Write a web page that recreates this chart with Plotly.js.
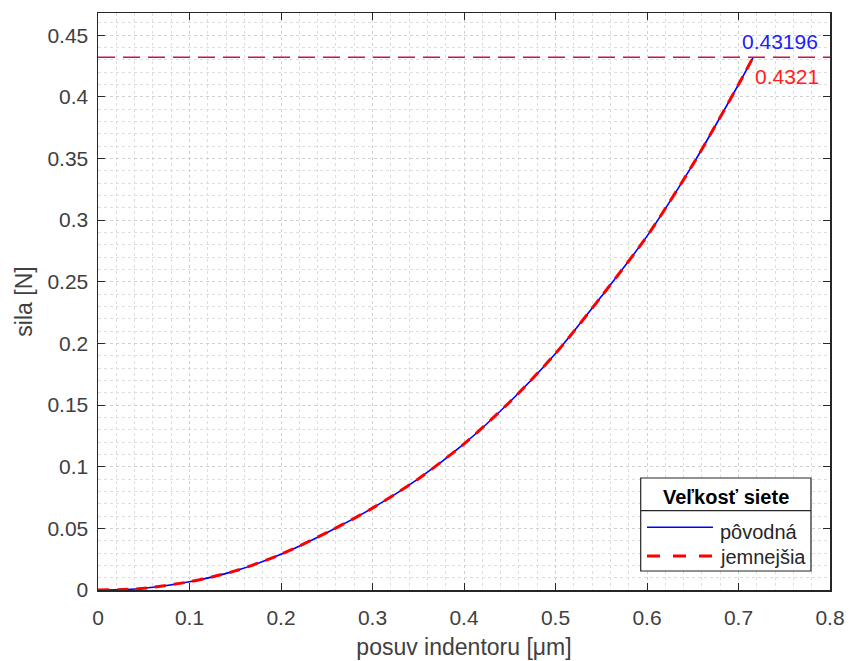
<!DOCTYPE html>
<html>
<head>
<meta charset="utf-8">
<script src="https://cdn.plot.ly/plotly-3.0.1.min.js"></script>
<style>html,body{margin:0;padding:0;background:#fff;}#chart{width:849px;height:661px;}</style>
</head>
<body>
<div id="chart"></div>
<script>
// displacement of indentor [µm]
const posuv = [0, 0.044, 0.1, 0.15, 0.2, 0.25, 0.3, 0.35, 0.4, 0.45, 0.5, 0.55, 0.6, 0.65, 0.7, 0.716];
// force [N] - original mesh
const silaPovodna = [0, 0.001, 0.0067, 0.0155, 0.029, 0.0465, 0.0664, 0.0901, 0.1185, 0.1525, 0.1918, 0.238, 0.287, 0.345, 0.410, 0.43196];
// force [N] - finer mesh
const silaJemnejsia = [0, 0.001, 0.0067, 0.0155, 0.029, 0.0465, 0.0664, 0.0901, 0.1185, 0.1525, 0.1918, 0.238, 0.287, 0.345, 0.410, 0.4321];
const seriesNames = ['pôvodná', 'jemnejšia'];
const legendTitle = 'Veľkosť siete';
const xTitle = 'posuv indentoru [μm]';
const yTitle = 'sila [N]';
const xRange = [0, 0.8];
const yRange = [0, 0.468];

const FONT = '"Liberation Sans", Arial, Helvetica, sans-serif';
const maxP = silaPovodna[silaPovodna.length - 1];
const maxJ = silaJemnejsia[silaJemnejsia.length - 1];
const xEnd = posuv[posuv.length - 1];

const colors = ['#0000ff', '#ff0000'];
const dashes = ['solid', '11px,8px'];
const widths = [1.6, 3];

const traces = [
  {x: posuv, y: silaPovodna, name: seriesNames[0], type: 'scatter', mode: 'lines',
   line: {color: colors[0], width: widths[0], shape: 'spline', smoothing: 0.8}},
  {x: posuv, y: silaJemnejsia, name: seriesNames[1], type: 'scatter', mode: 'lines',
   line: {color: colors[1], width: widths[1], dash: dashes[1], shape: 'spline', smoothing: 0.8}}
];

const gridStyle = {showgrid: true, gridcolor: '#d0d0d0', gridwidth: 1, griddash: '3px,3px'};

// custom legend (paper coordinates)
const lg = {x0: 0.7414, x1: 0.974, y0: 0.0329, y1: 0.1941, sep: 0.1374,
            sx0: 0.750, sx1: 0.8402, tx: 0.847, rows: [0.1087, 0.0589], trow: [0.1005, 0.0572], ty: 0.162};

const shapes = [
  {type: 'line', xref: 'x domain', yref: 'y', x0: 0, x1: 1, y0: maxJ, y1: maxJ,
   line: {color: '#c8144c', width: 1.6, dash: '17px,8px'}, layer: 'above'},
  {type: 'rect', xref: 'paper', yref: 'paper', x0: lg.x0, x1: lg.x1, y0: lg.y0, y1: lg.y1,
   fillcolor: '#ffffff', line: {color: '#262626', width: 1.2}, layer: 'above'},
  {type: 'line', xref: 'paper', yref: 'paper', x0: lg.x0, x1: lg.x1, y0: lg.sep, y1: lg.sep,
   line: {color: '#262626', width: 1.2}, layer: 'above'}
];
const annotations = [
  {x: xEnd, y: maxP, xref: 'x', yref: 'y', text: String(maxP), showarrow: false,
   xanchor: 'center', yanchor: 'bottom', xshift: 27, yshift: 2,
   font: {size: 21, color: '#2020ff', family: FONT}},
  {x: xEnd, y: maxJ, xref: 'x', yref: 'y', text: String(maxJ), showarrow: false,
   xanchor: 'left', yanchor: 'top', xshift: 0, yshift: -6,
   font: {size: 21, color: '#ff2020', family: FONT}},
  {x: (lg.x0 + lg.x1) / 2, y: lg.ty, xref: 'paper', yref: 'paper', text: '<b>' + legendTitle + '</b>',
   showarrow: false, xanchor: 'center', yanchor: 'middle', font: {size: 20, color: '#000', family: FONT}}
];
seriesNames.forEach((n, i) => {
  shapes.push({type: 'line', xref: 'paper', yref: 'paper', x0: lg.sx0, x1: lg.sx1, y0: lg.rows[i], y1: lg.rows[i],
    line: {color: colors[i], width: i === 0 ? 1.6 : 3.2, dash: i === 0 ? 'solid' : '13px,13px'}, layer: 'above'});
  annotations.push({x: lg.tx, y: lg.trow[i], xref: 'paper', yref: 'paper', text: n, showarrow: false,
    xanchor: 'left', yanchor: 'middle', font: {size: 20, color: '#262626', family: FONT}});
});

const layout = {
  width: 849, height: 661,
  margin: {l: 98, r: 19, t: 13, b: 71},
  paper_bgcolor: '#fff', plot_bgcolor: '#fff',
  font: {family: FONT, size: 21, color: '#404040'},
  showlegend: false,
  xaxis: Object.assign({
    range: xRange, dtick: 0.1, tick0: 0,
    ticks: 'inside', ticklen: 7, tickcolor: '#262626', tickwidth: 1,
    showline: true, linecolor: '#262626', linewidth: 1.5, mirror: 'ticks',
    zeroline: false, ticklabelstandoff: 8,
    tickfont: {size: 21, color: '#404040'},
    title: {text: xTitle, font: {size: 23, color: '#404040'}, standoff: 11},
    minor: {dtick: 0.02, showgrid: true, gridcolor: '#dedede', griddash: '3px,3px', ticks: ''}
  }, gridStyle),
  yaxis: Object.assign({
    range: yRange, dtick: 0.05, tick0: 0,
    ticks: 'inside', ticklen: 7, tickcolor: '#262626', tickwidth: 1,
    showline: true, linecolor: '#262626', linewidth: 1.5, mirror: 'ticks',
    zeroline: false, ticklabelstandoff: 4,
    tickfont: {size: 21, color: '#404040'},
    title: {text: yTitle, font: {size: 23, color: '#404040'}, standoff: 8},
    minor: {dtick: 0.01, showgrid: true, gridcolor: '#dedede', griddash: '3px,3px', ticks: ''}
  }, gridStyle),
  shapes: shapes,
  annotations: annotations
};

Plotly.newPlot('chart', traces, layout, {displayModeBar: false, staticPlot: true});
</script>
</body>
</html>
